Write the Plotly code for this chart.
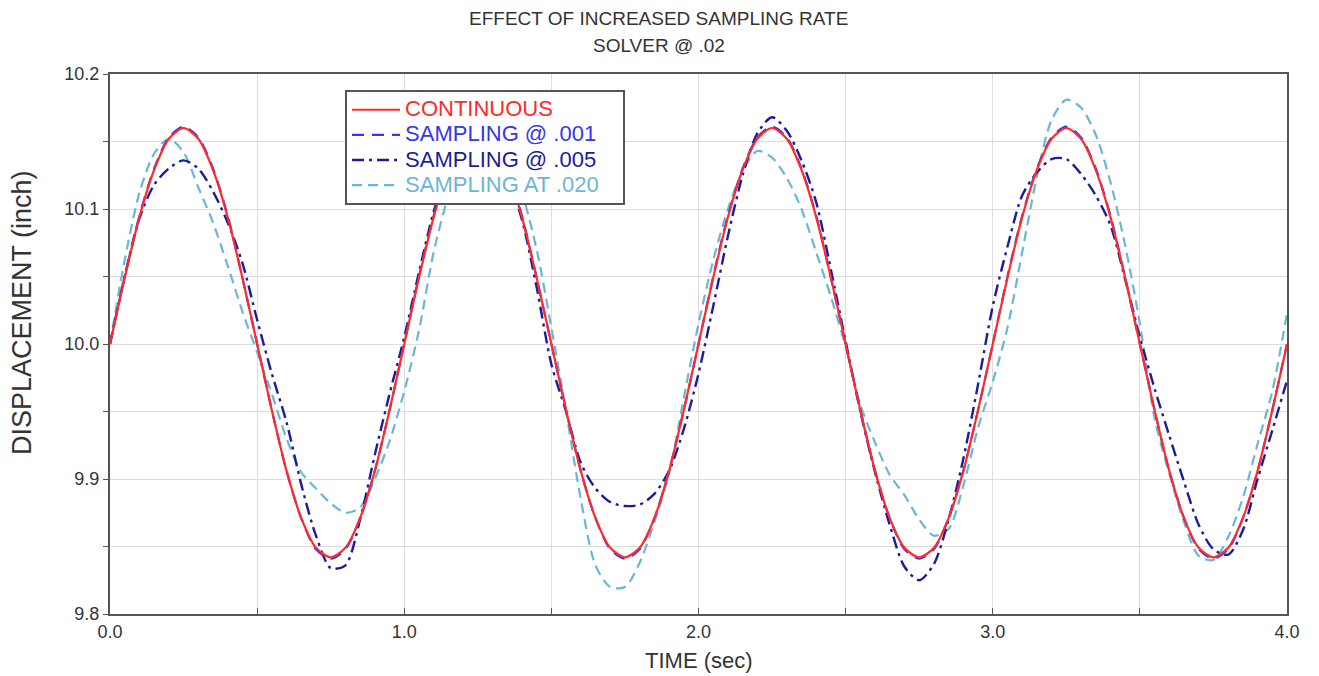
import plotly.graph_objects as go

TIME = [0.00, 0.05, 0.10, 0.15, 0.20, 0.25, 0.30, 0.35, 0.40, 0.45,
        0.50, 0.55, 0.60, 0.65, 0.70, 0.75, 0.80, 0.85, 0.90, 0.95,
        1.00, 1.05, 1.10, 1.15, 1.20, 1.25, 1.30, 1.35, 1.40, 1.45,
        1.50, 1.55, 1.60, 1.65, 1.70, 1.75, 1.80, 1.85, 1.90, 1.95,
        2.00, 2.05, 2.10, 2.15, 2.20, 2.25, 2.30, 2.35, 2.40, 2.45,
        2.50, 2.55, 2.60, 2.65, 2.70, 2.75, 2.80, 2.85, 2.90, 2.95,
        3.00, 3.05, 3.10, 3.15, 3.20, 3.25, 3.30, 3.35, 3.40, 3.45,
        3.50, 3.55, 3.60, 3.65, 3.70, 3.75, 3.80, 3.85, 3.90, 3.95,
        4.00]

CONTINUOUS = [10.000, 10.049, 10.094, 10.129, 10.152, 10.160, 10.152, 10.129, 10.094, 10.049,
              10.000, 9.951, 9.906, 9.871, 9.849, 9.842, 9.849, 9.871, 9.906, 9.951,
              10.000, 10.049, 10.094, 10.129, 10.152, 10.160, 10.152, 10.129, 10.094, 10.049,
              10.000, 9.951, 9.906, 9.871, 9.849, 9.842, 9.849, 9.871, 9.906, 9.951,
              10.000, 10.049, 10.094, 10.129, 10.152, 10.160, 10.152, 10.129, 10.094, 10.049,
              10.000, 9.951, 9.906, 9.871, 9.849, 9.842, 9.849, 9.871, 9.906, 9.951,
              10.000, 10.049, 10.094, 10.129, 10.152, 10.160, 10.152, 10.129, 10.094, 10.049,
              10.000, 9.951, 9.906, 9.871, 9.849, 9.842, 9.849, 9.871, 9.906, 9.951,
              10.000]

SAMPLING_001 = [10.000, 10.050, 10.095, 10.130, 10.153, 10.161, 10.153, 10.130, 10.095, 10.049,
                10.000, 9.951, 9.906, 9.871, 9.848, 9.841, 9.848, 9.871, 9.906, 9.951,
                10.000, 10.050, 10.095, 10.130, 10.153, 10.161, 10.153, 10.130, 10.095, 10.049,
                10.000, 9.951, 9.906, 9.871, 9.848, 9.841, 9.848, 9.871, 9.906, 9.951,
                10.000, 10.050, 10.095, 10.130, 10.153, 10.161, 10.153, 10.130, 10.095, 10.049,
                10.000, 9.951, 9.906, 9.871, 9.848, 9.841, 9.848, 9.871, 9.906, 9.951,
                10.000, 10.050, 10.095, 10.130, 10.153, 10.161, 10.153, 10.130, 10.095, 10.049,
                10.000, 9.951, 9.906, 9.871, 9.848, 9.841, 9.848, 9.871, 9.906, 9.951,
                10.000]

SAMPLING_005 = [10.000, 10.050, 10.093, 10.118, 10.130, 10.136, 10.130, 10.113, 10.090, 10.060,
                10.018, 9.978, 9.942, 9.896, 9.858, 9.834, 9.836, 9.870, 9.918, 9.963,
                10.005, 10.053, 10.098, 10.130, 10.148, 10.152, 10.145, 10.124, 10.092, 10.042,
                9.985, 9.950, 9.912, 9.893, 9.883, 9.880, 9.881, 9.889, 9.906, 9.937,
                9.978, 10.028, 10.080, 10.125, 10.156, 10.168, 10.158, 10.136, 10.105, 10.055,
                10.002, 9.950, 9.905, 9.866, 9.835, 9.825, 9.837, 9.870, 9.915, 9.970,
                10.028, 10.072, 10.110, 10.127, 10.137, 10.137, 10.126, 10.110, 10.088, 10.048,
                10.005, 9.967, 9.932, 9.898, 9.866, 9.848, 9.844, 9.862, 9.900, 9.936,
                9.973]

SAMPLING_020 = [10.000, 10.062, 10.112, 10.141, 10.152, 10.142, 10.116, 10.090, 10.058, 10.024,
                9.994, 9.963, 9.930, 9.905, 9.893, 9.882, 9.875, 9.879, 9.900, 9.928,
                9.965, 10.010, 10.068, 10.110, 10.140, 10.158, 10.160, 10.140, 10.112, 10.070,
                10.012, 9.950, 9.885, 9.836, 9.820, 9.820, 9.838, 9.868, 9.904, 9.960,
                10.015, 10.062, 10.100, 10.128, 10.143, 10.138, 10.123, 10.100, 10.068, 10.035,
                9.998, 9.955, 9.927, 9.903, 9.888, 9.870, 9.858, 9.863, 9.895, 9.938,
                9.972, 10.012, 10.068, 10.124, 10.166, 10.181, 10.175, 10.155, 10.120, 10.073,
                10.015, 9.945, 9.904, 9.868, 9.843, 9.840, 9.857, 9.886, 9.926, 9.965,
                10.023]

SERIES_NAMES = ["CONTINUOUS", "SAMPLING @ .001", "SAMPLING @ .005", "SAMPLING AT .020"]
SERIES_COLORS = ["#ff2a2a", "#3535f0", "#1c1c9a", "#6cb6d4"]
SERIES_DASH = ["solid", "12px,8px", "12px,5px,3px,5px", "10px,6px"]
SERIES_WIDTH = [2.2, 2.2, 2.4, 2.2]
SERIES_DATA = [CONTINUOUS, SAMPLING_001, SAMPLING_005, SAMPLING_020]

TITLE_LINES = ["EFFECT OF INCREASED SAMPLING RATE", "SOLVER @ .02"]
X_TITLE = "TIME (sec)"
Y_TITLE = "DISPLACEMENT (inch)"

X_TICKVALS = [0.0, 0.5, 1.0, 1.5, 2.0, 2.5, 3.0, 3.5, 4.0]
X_TICKTEXT = ["0.0", "", "1.0", "", "2.0", "", "3.0", "", "4.0"]
Y_TICKVALS = [9.8, 9.85, 9.9, 9.95, 10.0, 10.05, 10.1, 10.15, 10.2]
Y_TICKTEXT = ["9.8", "", "9.9", "", "10.0", "", "10.1", "", "10.2"]

FONT = "Liberation Sans, Arial, sans-serif"
TXT = "#333333"

fig = go.Figure()
# draw in reverse so the continuous curve sits on top; legend order reversed back
for i in reversed(range(4)):
    fig.add_trace(go.Scatter(
        x=TIME, y=SERIES_DATA[i], mode="lines",
        name="<span style='color:%s;font-size:22px'>%s</span>&nbsp;&nbsp;&nbsp;&nbsp;" % (SERIES_COLORS[i], SERIES_NAMES[i]),
        line=dict(color=SERIES_COLORS[i], width=SERIES_WIDTH[i], dash=SERIES_DASH[i],
                  shape="spline", smoothing=0.8),
    ))

fig.update_layout(
    width=1319, height=676,
    margin=dict(l=110, r=32, t=74, b=62),
    paper_bgcolor="white", plot_bgcolor="white",
    font=dict(family=FONT, size=18, color=TXT),
    showlegend=True,
    legend=dict(x=0.1997, y=0.97, xanchor="left", yanchor="top",
                traceorder="reversed",
                bgcolor="white", bordercolor="#555555", borderwidth=2,
                font=dict(family=FONT, size=17),
                tracegroupgap=0, itemwidth=48),
    annotations=[
        dict(text=TITLE_LINES[0], xref="paper", yref="paper", x=0.4664, y=1.1037,
             xanchor="center", yanchor="middle", showarrow=False,
             font=dict(family=FONT, size=19, color=TXT)),
        dict(text=TITLE_LINES[1], xref="paper", yref="paper", x=0.4664, y=1.0537,
             xanchor="center", yanchor="middle", showarrow=False,
             font=dict(family=FONT, size=19, color=TXT)),
        dict(text=X_TITLE, xref="paper", yref="paper", x=0.5004, y=-0.087,
             xanchor="center", yanchor="middle", showarrow=False,
             font=dict(family=FONT, size=22, color=TXT)),
        dict(text=Y_TITLE, xref="paper", yref="paper", x=-0.0748, y=0.559,
             xanchor="center", yanchor="middle", showarrow=False, textangle=-90,
             font=dict(family=FONT, size=27, color=TXT)),
    ],
)

fig.update_xaxes(
    range=[0, 4], tickvals=X_TICKVALS, ticktext=X_TICKTEXT,
    showgrid=True, gridcolor="#dddddd", gridwidth=1,
    showline=True, linecolor="#555555", linewidth=2, mirror=True,
    ticks="inside", ticklen=6, tickcolor="#555555",
    zeroline=False, tickfont=dict(family=FONT, size=18, color=TXT),
)
fig.update_yaxes(
    range=[9.8, 10.2], tickvals=Y_TICKVALS, ticktext=Y_TICKTEXT,
    showgrid=True, gridcolor="#dddddd", gridwidth=1,
    showline=True, linecolor="#555555", linewidth=2, mirror=True,
    ticks="outside", ticklen=5, tickcolor="#555555",
    zeroline=False, tickfont=dict(family=FONT, size=18, color=TXT),
)

fig.write_html("out.html")
